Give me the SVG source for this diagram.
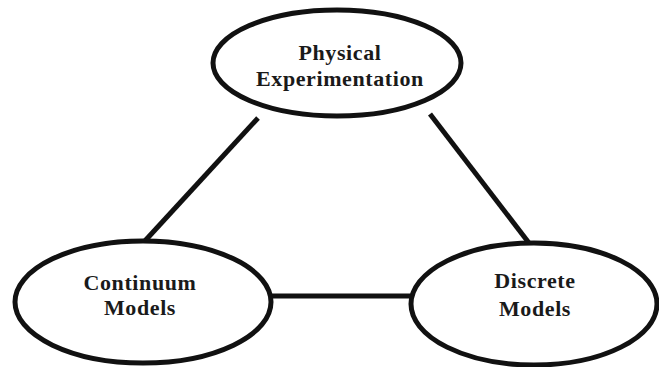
<svg xmlns="http://www.w3.org/2000/svg" width="659" height="367" viewBox="0 0 659 367">
<style>
.node ellipse{fill:#fff;stroke:#111;stroke-width:5}
.node text{font-family:"Liberation Serif","Times New Roman",serif;font-weight:bold;font-size:22px;letter-spacing:0.6px;fill:#1a1a1a;text-anchor:middle}
.edges line{stroke:#111;stroke-width:5}
</style>
<rect width="659" height="367" fill="#fff"/>
<g class="edges" id="connectors">
<line x1="258" y1="118" x2="143" y2="243"/>
<line x1="430" y1="114" x2="529" y2="243"/>
<line x1="271" y1="296" x2="411" y2="296"/>
</g>
<g class="node" id="physical">
<ellipse cx="337" cy="63" rx="124" ry="53"/>
<text x="340" y="60">Physical</text>
<text x="340" y="86">Experimentation</text>
</g>
<g class="node" id="continuum">
<ellipse cx="143" cy="302" rx="128" ry="61"/>
<text x="140" y="290">Continuum</text>
<text x="140" y="315">Models</text>
</g>
<g class="node" id="discrete">
<ellipse cx="534" cy="304" rx="123" ry="61"/>
<text x="535" y="288">Discrete</text>
<text x="535" y="316">Models</text>
</g>
</svg>
